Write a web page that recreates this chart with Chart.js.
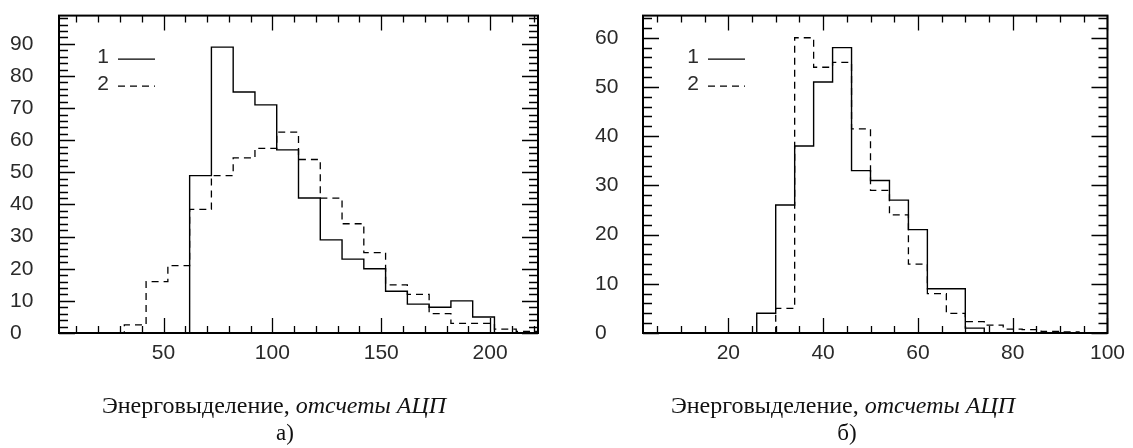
<!DOCTYPE html>
<html>
<head>
<meta charset="utf-8">
<script src="https://cdn.jsdelivr.net/npm/chart.js@4.4.1/dist/chart.umd.min.js"></script>
<style>
    body { margin: 0; background: #fff; }
    #page { position: relative; width: 1133px; height: 448px; overflow: hidden; }
    .panel { position: absolute; top: 0; height: 448px; }
    .xt, .cap {
        position: absolute; white-space: nowrap; transform: translateX(-50%);
        font-family: "Liberation Serif", "DejaVu Serif", serif; color: #111;
    }
    .xt { font-size: 24px; top: 392px; }
    .xt i { font-style: italic; }
    .cap { font-size: 23px; top: 420px; }
</style>
</head>
<body>
<div id="page">
    <div class="panel" style="left:0;width:566px"><canvas id="chartA"></canvas></div>
    <div class="panel" style="left:566px;width:567px"><canvas id="chartB"></canvas></div>
    <div class="xt" style="left:274px">Энерговыделение, <i>отсчеты АЦП</i></div>
    <div class="cap" style="left:285px">а)</div>
    <div class="xt" style="left:843px">Энерговыделение, <i>отсчеты АЦП</i></div>
    <div class="cap" style="left:847px">б)</div>
</div>
<script>
'use strict';

// panel a) : bin edges (width 10) and counts per bin
const edgesA = [2, 12, 22, 32, 42, 52, 62, 72, 82, 92, 102, 112, 122, 132, 142, 152, 162, 172, 182, 192, 202, 212, 222];
const solidA = [0, 0, 0, 0, 0, 0, 49, 89, 75, 71, 57, 42, 29, 23, 20, 13, 9, 8, 10, 5, 0, 0];
const dashedA = [0, 0, 0, 2.5, 16, 21, 38.5, 49, 54.5, 57.5, 62.5, 54, 42, 34, 25, 15, 12, 6, 3, 3, 1.2, 0.5];
const xTicksA = [50, 100, 150, 200];
const yTicksA = [0, 10, 20, 30, 40, 50, 60, 70, 80, 90];

// panel б) : bin edges (width 4) and counts per bin
const edgesB = [2, 6, 10, 14, 18, 22, 26, 30, 34, 38, 42, 46, 50, 54, 58, 62, 66, 70, 74, 78, 82, 86, 90, 94, 98, 102];
const solidB = [0, 0, 0, 0, 0, 0, 4, 26, 38, 51, 58, 33, 31, 27, 21, 9, 9, 1, 0, 0, 0, 0, 0, 0, 0];
const dashedB = [0, 0, 0, 0, 0, 0, 0, 5, 60, 54, 55, 41.5, 29, 24, 14, 8, 4, 2.3, 1.6, 0.8, 0.7, 0.3, 0.2, 0, 0];
const xTicksB = [20, 40, 60, 80, 100];
const yTicksB = [0, 10, 20, 30, 40, 50, 60];

const seriesLabels = ['1', '2'];

const tickFont = { family: '"Liberation Sans", Arial, sans-serif', size: 21 };
const labelColor = '#2a2a2a';
const inkColor = '#000';

// histogram outline: value of bin i held from edge i to edge i+1, then back to zero
function histPoints(edges, values) {
    return edges.map((e, i) => ({ x: e, y: i < values.length ? values[i] : 0 }));
}

// frame with inward ticks on all four sides (PAW style)
const frameTicks = {
    id: 'frameTicks',
    afterDatasetsDraw(chart, args, opts) {
        const { ctx, chartArea: a, scales: { x, y } } = chart;
        ctx.save();
        ctx.strokeStyle = inkColor;
        ctx.lineWidth = 1.3;
        ctx.beginPath();
        for (let v = Math.ceil(x.min / opts.xStep) * opts.xStep; v <= x.max + 1e-6; v += opts.xStep) {
            const px = Math.round(x.getPixelForValue(v)) + 0.5;
            const len = Math.abs(v % opts.xMajor) < 1e-6 ? 15 : 7;
            ctx.moveTo(px, a.bottom); ctx.lineTo(px, a.bottom - len);
            ctx.moveTo(px, a.top); ctx.lineTo(px, a.top + len);
        }
        for (let v = 0; v <= y.max + 1e-6; v += opts.yStep) {
            const py = Math.round(y.getPixelForValue(v)) + 0.5;
            const len = Math.abs(v % opts.yMajor) < 1e-6 ? 16 : 9;
            ctx.moveTo(a.left, py); ctx.lineTo(a.left + len, py);
            ctx.moveTo(a.right, py); ctx.lineTo(a.right - len, py);
        }
        ctx.stroke();
        ctx.lineWidth = 2;
        ctx.strokeRect(a.left, a.top, a.right - a.left, a.bottom - a.top);
        ctx.restore();
    }
};

// "1 ——" / "2 - - -" key in the upper left corner
const keyPlugin = {
    id: 'keyPlugin',
    afterDatasetsDraw(chart, args, opts) {
        const { ctx, chartArea: a } = chart;
        ctx.save();
        ctx.font = tickFont.size + 'px ' + tickFont.family;
        ctx.fillStyle = labelColor;
        ctx.textAlign = 'center';
        ctx.textBaseline = 'middle';
        const order = [1, 0];
        order.forEach((di, row) => {
            const ds = chart.data.datasets[di];
            const yy = a.top + 42 + row * 27;
            ctx.fillText(ds.label, a.left + opts.dx, yy);
            ctx.strokeStyle = inkColor;
            ctx.lineWidth = 1.3;
            ctx.setLineDash(ds.borderDash || []);
            ctx.beginPath();
            ctx.moveTo(a.left + opts.dx + 15, yy + 1.5);
            ctx.lineTo(a.left + opts.dx + 52, yy + 1.5);
            ctx.stroke();
        });
        ctx.restore();
    }
};

function histChart(canvasId, cfg) {
    const el = document.getElementById(canvasId);
    return new Chart(el, {
        type: 'line',
        data: {
            datasets: [
                {
                    label: seriesLabels[1],
                    data: histPoints(cfg.edges, cfg.dashed),
                    stepped: true,
                    borderColor: inkColor,
                    borderWidth: 1.3,
                    borderDash: [7, 5],
                    pointRadius: 0,
                    fill: false
                },
                {
                    label: seriesLabels[0],
                    data: histPoints(cfg.edges, cfg.solid),
                    stepped: true,
                    borderColor: inkColor,
                    borderWidth: 1.4,
                    pointRadius: 0,
                    fill: false
                }
            ]
        },
        options: {
            responsive: true,
            maintainAspectRatio: false,
            animation: false,
            layout: { padding: cfg.padding },
            scales: {
                x: {
                    type: 'linear',
                    min: cfg.xMin,
                    max: cfg.xMax,
                    grid: { display: false, drawTicks: false },
                    border: { display: false },
                    afterBuildTicks: s => { s.ticks = cfg.xTicks.map(v => ({ value: v })); },
                    afterFit: s => { s.height = 115; },
                    ticks: { font: tickFont, color: labelColor, padding: 8, maxRotation: 0, autoSkip: false }
                },
                y: {
                    min: 0,
                    max: cfg.yMax,
                    grid: { display: false, drawTicks: false },
                    border: { display: false },
                    afterBuildTicks: s => { s.ticks = cfg.yTicks.map(v => ({ value: v })); },
                    afterFit: s => { s.width = cfg.yWidth; },
                    ticks: { font: tickFont, color: labelColor, crossAlign: 'far', autoSkip: false }
                }
            },
            plugins: {
                legend: { display: false },
                tooltip: { enabled: false },
                frameTicks: cfg.frame,
                keyPlugin: { dx: cfg.keyDx }
            }
        },
        plugins: [frameTicks, keyPlugin]
    });
}

histChart('chartA', {
    edges: edgesA, solid: solidA, dashed: dashedA,
    xTicks: xTicksA, yTicks: yTicksA,
    xMin: 2, xMax: 222, yMax: 98.8,
    padding: { left: 10, top: 15, right: 28, bottom: 0 },
    yWidth: 49,
    frame: { xStep: 10, xMajor: 50, yStep: 2, yMajor: 10 },
    keyDx: 44
});

histChart('chartB', {
    edges: edgesB, solid: solidB, dashed: dashedB,
    xTicks: xTicksB, yTicks: yTicksB,
    xMin: 2, xMax: 100, yMax: 64.5,
    padding: { left: 29, top: 15, right: 21, bottom: 0 },
    yWidth: 48,
    frame: { xStep: 5, xMajor: 20, yStep: 2, yMajor: 10 },
    keyDx: 50
});
</script>
</body>
</html>
